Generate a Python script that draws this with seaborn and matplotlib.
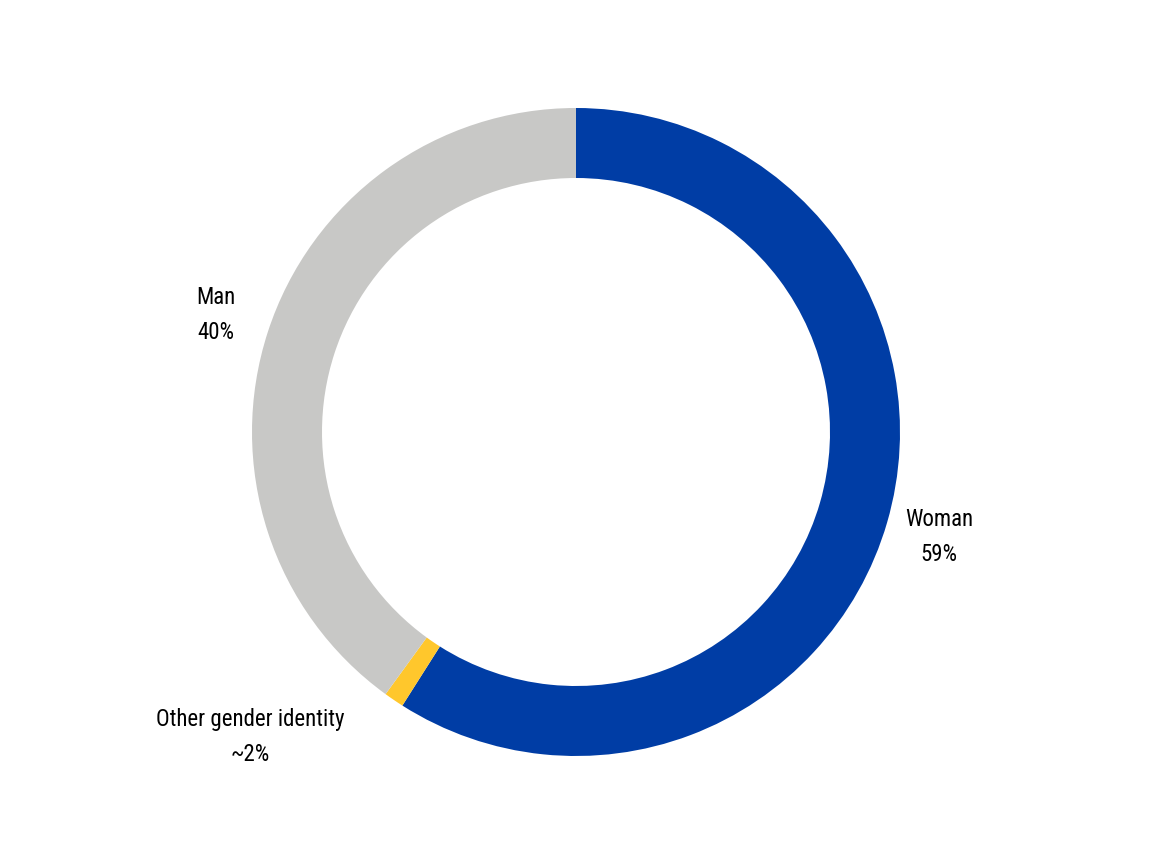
import matplotlib.pyplot as plt
import matplotlib.font_manager as fm
import seaborn as sns

categories = ["Woman", "Other gender identity", "Man"]
shares = [59, 1, 40]
label_text = ["59%", "~2%", "40%"]
colors = ["#003DA5", "#FFC72C", "#C8C8C6"]

sns.set_theme(style="white")
names = {f.name for f in fm.fontManager.ttflist}
fam = [n for n in ["Liberation Sans Narrow", "Roboto Condensed", "Liberation Sans", "DejaVu Sans"] if n in names]
plt.rcParams['font.family'] = fam

fig = plt.figure(figsize=(11.52, 8.64), dpi=100)
ax = fig.add_axes([0, 0, 1, 1])
ax.pie(shares, colors=colors, startangle=90, counterclock=False, radius=324,
       wedgeprops=dict(width=70, linewidth=0))
ax.set_xlim(-576, 576)
ax.set_ylim(-432, 432)
ax.set_aspect("equal")
ax.axis("off")

# label positions (data units = pixels from centre)
pos = {"Woman": (363, -105), "Man": (-360, 117), "Other gender identity": (-326, -305)}
for c, t in zip(categories, label_text):
    x, y = pos[c]
    ax.text(x, y, f"{c}\n{t}", ha="center", va="center", fontsize=16.5,
            linespacing=1.7, color="black")

fig.savefig("out.png", dpi=100)
